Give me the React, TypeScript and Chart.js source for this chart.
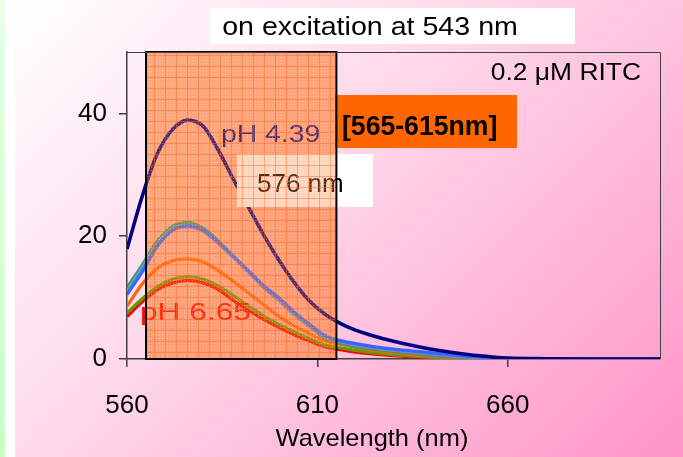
import React, { useEffect, useRef } from "react";
import { Chart, registerables } from "chart.js";

Chart.register(...registerables);

// ---- data ----
const wavelengths = [560, 564, 568, 572, 576, 580, 584, 588, 592, 596, 600, 604, 608, 612, 616, 620, 625, 630, 635, 640, 645, 650, 655, 660, 670, 680, 690, 700];

const ph439 = [17.9, 26.5, 33.5, 37.4, 38.9, 37.9, 34.0, 29.2, 24.6, 20.1, 16.0, 12.4, 9.4, 7.3, 5.8, 4.7, 3.7, 2.9, 2.2, 1.6, 1.1, 0.7, 0.4, 0.15, 0.05, 0, 0, 0];
const seriesBlue = [10.5, 14.2, 18.4, 21.0, 21.7, 21.0, 19.0, 16.7, 14.3, 11.9, 9.9, 7.6, 5.6, 3.8, 3.0, 2.5, 2.0, 1.6, 1.3, 1.0, 0.7, 0.45, 0.25, 0.1, 0.02, 0, 0, 0];
const seriesSlate = [10.8, 14.6, 18.6, 21.0, 21.5, 20.8, 18.8, 16.5, 14.1, 11.7, 9.6, 7.4, 5.4, 3.6, 2.8, 2.2, 1.8, 1.4, 1.1, 0.8, 0.55, 0.35, 0.2, 0.08, 0, 0, 0, 0];
const seriesCyan = [11.0, 14.8, 18.8, 21.2, 21.8, 21.0, 18.9, 16.6, 14.2, 11.8, 9.7, 7.4, 5.4, 3.6, 2.8, 2.3, 1.9, 1.5, 1.2, 0.9, 0.6, 0.4, 0.2, 0.08, 0, 0, 0, 0];
const seriesGreen = [11.6, 15.3, 19.2, 21.6, 22.2, 21.3, 19.2, 16.7, 14.1, 11.6, 9.5, 7.2, 5.3, 3.4, 2.6, 2.0, 1.6, 1.2, 0.9, 0.6, 0.4, 0.25, 0.12, 0.05, 0, 0, 0, 0];
const seriesOrange = [8.6, 12.2, 14.8, 16.0, 16.3, 15.8, 14.4, 12.6, 10.7, 8.8, 6.9, 5.4, 4.1, 3.0, 2.4, 1.9, 1.4, 1.0, 0.7, 0.5, 0.3, 0.2, 0.1, 0.05, 0, 0, 0, 0];
const seriesOlive = [7.5, 9.8, 11.8, 13.0, 13.4, 13.0, 11.9, 10.3, 8.6, 7.0, 5.6, 4.4, 3.3, 2.3, 1.8, 1.4, 1.0, 0.7, 0.5, 0.3, 0.2, 0.1, 0.05, 0, 0, 0, 0, 0];
const ph665 = [6.9, 9.3, 11.3, 12.4, 12.8, 12.4, 11.3, 9.5, 7.9, 6.4, 5.1, 3.9, 2.9, 2.0, 1.5, 1.1, 0.8, 0.55, 0.35, 0.2, 0.1, 0.05, 0, 0, 0, 0, 0, 0];

const xTicks = [560, 610, 660];
const yTicks = [0, 20, 40];
const band = [565, 615];

const FONT = "Arial, 'Liberation Sans', Helvetica, sans-serif";

function pts(vals: number[]) {
  return wavelengths.map((w, i) => ({ x: w, y: vals[i] }));
}

function drawText(
  ctx: CanvasRenderingContext2D,
  text: string,
  x: number,
  y: number,
  size: number,
  color: string,
  opts: { bold?: boolean; align?: CanvasTextAlign; sx?: number } = {}
) {
  const sx = opts.sx ?? 1;
  ctx.save();
  ctx.font = `${opts.bold ? "bold " : ""}${size}px ${FONT}`;
  ctx.fillStyle = color;
  ctx.textAlign = opts.align ?? "left";
  ctx.textBaseline = "alphabetic";
  ctx.translate(x, y);
  ctx.scale(sx, 1);
  ctx.fillText(text, 0, 0);
  ctx.restore();
}

function makePattern(ctx: CanvasRenderingContext2D) {
  const c = document.createElement("canvas");
  c.width = 11;
  c.height = 11;
  const g = c.getContext("2d")!;
  g.fillStyle = "rgba(255,130,60,0.32)";
  g.fillRect(0, 0, 11, 11);
  g.fillStyle = "rgba(255,105,30,0.45)";
  g.fillRect(0, 0, 11, 1);
  g.fillRect(0, 0, 1, 11);
  g.fillStyle = "rgba(255,240,225,0.35)";
  for (let i = 2; i < 11; i += 3) {
    for (let j = 2; j < 11; j += 3) {
      g.fillRect(i, j, 1, 1);
    }
  }
  return ctx.createPattern(c, "repeat")!;
}

export default function App() {
  const ref = useRef<HTMLCanvasElement>(null);

  useEffect(() => {
    const canvas = ref.current!;
    const pattern = makePattern(canvas.getContext("2d")!);

    const annot = {
      id: "annot",
      beforeDatasetsDraw(chart: any) {
        const { ctx, chartArea, scales } = chart;
        const x0 = scales.x.getPixelForValue(band[0]);
        const x1 = scales.x.getPixelForValue(band[1]);
        ctx.save();
        ctx.fillStyle = "rgba(255,125,55,0.47)";
        ctx.fillRect(x0, chartArea.top, x1 - x0, chartArea.bottom - chartArea.top);
        ctx.restore();
      },
      afterDatasetsDraw(chart: any) {
        const { ctx, chartArea, scales } = chart;
        const x0 = scales.x.getPixelForValue(band[0]);
        const x1 = scales.x.getPixelForValue(band[1]);
        const top = chartArea.top;
        const bottom = chartArea.bottom;

        // white label box "576 nm"
        ctx.save();
        ctx.fillStyle = "#ffffff";
        ctx.fillRect(237, 154, 136, 53);
        ctx.restore();
        drawText(ctx, "576 nm", 257, 192, 26, "#000000");
        drawText(ctx, "pH 4.39", 221, 142, 24, "#000080", { sx: 1.18 });
        drawText(ctx, "pH 6.65", 140, 320, 24, "#ff0000", { sx: 1.32 });

        // hatched overlay
        ctx.save();
        ctx.fillStyle = pattern;
        ctx.fillRect(x0, top, x1 - x0, bottom - top);
        ctx.restore();

        // orange box
        ctx.save();
        ctx.fillStyle = "#ff6600";
        ctx.fillRect(335, 95, 182, 53);
        ctx.restore();
        drawText(ctx, "[565-615nm]", 342, 135, 28, "#000000", { bold: true, sx: 0.95 });

        // band border
        ctx.save();
        ctx.strokeStyle = "#000000";
        ctx.lineWidth = 2;
        ctx.strokeRect(x0, top, x1 - x0, bottom - top);
        ctx.restore();

        // plot frame top/right
        ctx.save();
        ctx.strokeStyle = "#404040";
        ctx.lineWidth = 1;
        ctx.beginPath();
        ctx.moveTo(chartArea.left, top + 0.5);
        ctx.lineTo(chartArea.right + 0.5, top + 0.5);
        ctx.lineTo(chartArea.right + 0.5, bottom);
        ctx.stroke();
        ctx.restore();

        // title box
        ctx.save();
        ctx.fillStyle = "#ffffff";
        ctx.fillRect(210, 8, 365, 36);
        ctx.restore();
        drawText(ctx, "on excitation at 543 nm", 370, 35, 26, "#000000", { align: "center", sx: 1.1 });

        drawText(ctx, "0.2 μM RITC", 641, 80, 24, "#000000", { align: "right", sx: 1.1 });

        drawText(ctx, "Wavelength (nm)", 372, 446, 24, "#000000", { align: "center", sx: 1.06 });
      },
    };

    const mk = (label: string, vals: number[], color: string, width = 3.2) => ({
      label,
      data: pts(vals),
      borderColor: color,
      backgroundColor: color,
      borderWidth: width,
      pointRadius: 0,
      fill: false,
      cubicInterpolationMode: "monotone" as const,
    });

    const chart = new Chart(canvas, {
      type: "line",
      data: {
        datasets: [
          mk("pH 4.39", ph439, "#000080", 3.6),
          mk("b", seriesBlue, "#3366ff"),
          mk("s", seriesSlate, "#8080c0"),
          mk("c", seriesCyan, "#33cccc"),
          mk("g", seriesGreen, "#339966"),
          mk("o", seriesOrange, "#ff6600"),
          mk("ol", seriesOlive, "#669900"),
          mk("pH 6.65", ph665, "#ff0000"),
        ],
      },
      options: {
        responsive: false,
        animation: false,
        devicePixelRatio: 1,
        layout: { padding: { top: 52, right: 23, left: 0, bottom: 0 } },
        plugins: {
          legend: { display: false },
          tooltip: { enabled: false },
          title: { display: false },
        },
        scales: {
          x: {
            type: "linear",
            min: 560,
            max: 700,
            afterBuildTicks: (s: any) => {
              s.ticks = xTicks.map((v) => ({ value: v }));
            },
            afterFit: (s: any) => {
              s.height = 98;
            },
            grid: {
              display: true,
              drawOnChartArea: false,
              drawTicks: true,
              tickLength: 8,
              color: "#404040",
              lineWidth: 1.5,
            },
            border: { display: true, color: "#404040", width: 1.5 },
            ticks: {
              font: { size: 26, family: FONT },
              color: "#000000",
              padding: 23,
              maxRotation: 0,
              autoSkip: false,
            },
          },
          y: {
            type: "linear",
            min: 0,
            max: 50,
            afterBuildTicks: (s: any) => {
              s.ticks = yTicks.map((v) => ({ value: v }));
            },
            afterFit: (s: any) => {
              s.width = 127;
            },
            grid: {
              display: true,
              drawOnChartArea: false,
              drawTicks: true,
              tickLength: 8,
              color: "#404040",
              lineWidth: 1.5,
            },
            border: { display: true, color: "#404040", width: 1.5 },
            ticks: {
              font: { size: 26, family: FONT },
              color: "#000000",
              padding: 12,
            },
          },
        },
      },
      plugins: [annot],
    } as any);

    return () => chart.destroy();
  }, []);

  return (
    <div
      style={{
        position: "fixed",
        left: 0,
        top: 0,
        width: 683,
        height: 457,
        overflow: "hidden",
        background: "#ffffff",
      }}
    >
      <div
        style={{
          position: "absolute",
          left: 0,
          top: 0,
          width: 5,
          height: 457,
          background: "linear-gradient(to bottom, #eaffea, #c8ffc8)",
        }}
      />
      <div
        style={{
          position: "absolute",
          left: 15,
          top: 0,
          width: 668,
          height: 457,
          background: "linear-gradient(135deg, #ffffff 0%, #ffd8ea 42%, #ff94c8 100%)",
        }}
      />
      <canvas
        ref={ref}
        width={683}
        height={457}
        style={{ position: "absolute", left: 0, top: 0, width: 683, height: 457 }}
      />
    </div>
  );
}
